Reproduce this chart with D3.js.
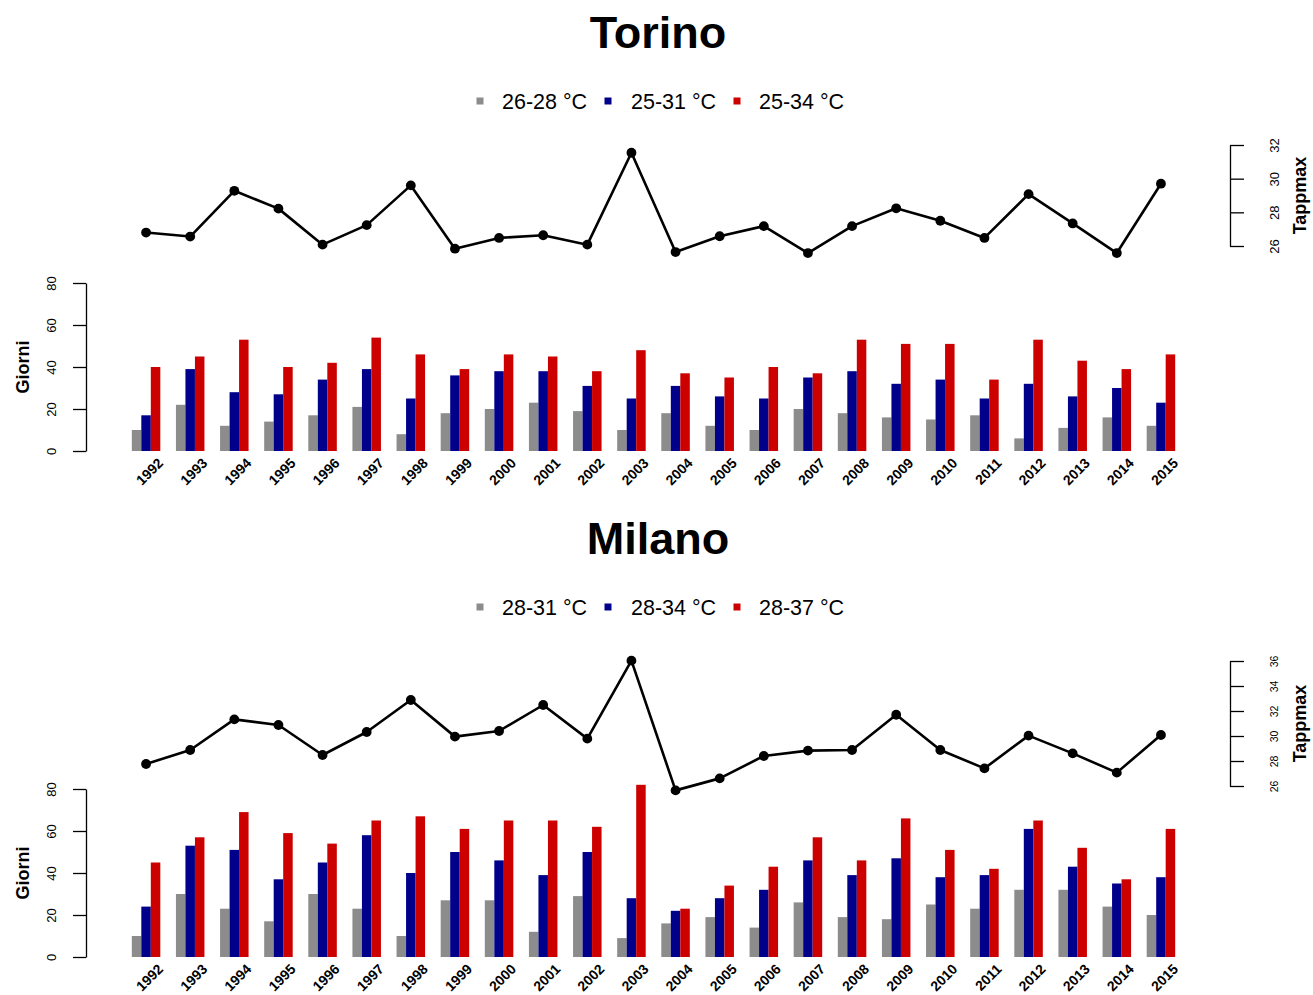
<!DOCTYPE html>
<html>
<head>
<meta charset="utf-8">
<script src="https://cdn.jsdelivr.net/npm/d3@7"></script>
<style>
  html, body { margin: 0; padding: 0; background: #fff; }
  svg { display: block; font-family: "Liberation Sans", Arial, sans-serif; }
  .tick text { font-family: "Liberation Sans", Arial, sans-serif; }
</style>
</head>
<body>
<svg id="chart" width="1313" height="995"></svg>
<script>
// Years shared by both cities
const years = [1992,1993,1994,1995,1996,1997,1998,1999,2000,2001,2002,2003,
               2004,2005,2006,2007,2008,2009,2010,2011,2012,2013,2014,2015];

// Torino: days per temperature class and mean apparent max temperature
const torinoSeries = ["26-28 °C", "25-31 °C", "25-34 °C"];
const torinoLow  = [10,22,12,14,17,21, 8,18,20,23,19,10,18,12,10,20,18,16,15,17, 6,11,16,12];
const torinoMid  = [17,39,28,27,34,39,25,36,38,38,31,25,31,26,25,35,38,32,34,25,32,26,30,23];
const torinoHigh = [40,45,53,40,42,54,46,39,46,45,38,48,37,35,40,37,53,51,51,34,53,43,39,46];
const torinoTapp = [26.8,26.56,29.28,28.22,26.08,27.24,29.6,25.84,26.48,26.64,26.08,31.54,
                    25.64,26.58,27.18,25.58,27.18,28.24,27.5,26.48,29.08,27.34,25.58,29.7];
const torinoTappTicks = [26,28,30,32];

// Milano: days per temperature class and mean apparent max temperature
const milanoSeries = ["28-31 °C", "28-34 °C", "28-37 °C"];
const milanoLow  = [10,30,23,17,30,23,10,27,27,12,29, 9,16,19,14,26,19,18,25,23,32,32,24,20];
const milanoMid  = [24,53,51,37,45,58,40,50,46,39,50,28,22,28,32,46,39,47,38,39,61,43,35,38];
const milanoHigh = [45,57,69,59,54,65,67,61,65,65,62,82,23,34,43,57,46,66,51,42,65,52,37,61];
const milanoTapp = [27.76,28.88,31.33,30.88,28.48,30.32,32.88,29.95,30.4,32.48,29.79,36.03,
                    25.65,26.61,28.4,28.83,28.88,31.7,28.88,27.41,30.03,28.61,27.07,30.08];
const milanoTappTicks = [26,28,30,32,34,36];

const dayTicks = [0,20,40,60,80];
const seriesColors = ["#8c8c8c", "#00008b", "#cd0000"];

const svg = d3.select("#chart");

// Shared horizontal layout: one group of three bars per year
const x = d3.scaleBand().domain(years).range([124, 1183])
  .paddingInner(0.354).paddingOuter(0.177);

function styleAxisText(axisG, shift, size) {
  axisG.attr("font-size", size).attr("font-family", null);
  axisG.select(".domain").attr("stroke-width", 1.3);
  axisG.selectAll(".tick line").attr("stroke-width", 1.3);
  axisG.selectAll(".tick text")
    .attr("x", null).attr("dy", null)
    .attr("transform", `translate(${shift},0) rotate(-90)`)
    .attr("text-anchor", "middle")
    .attr("font-size", size)
    .style("font-size", size + "px")
    .attr("fill", "#000");
}

function drawCity(cfg) {
  const g = svg.append("g").attr("transform", `translate(0,${cfg.dy})`);

  // Title
  g.append("text")
    .attr("x", 658).attr("y", 48)
    .attr("text-anchor", "middle")
    .attr("font-size", 45).attr("font-weight", "bold")
    .text(cfg.name);

  // Legend
  const legendSq = [480, 608, 737];
  const legendTx = [502, 631, 759];
  cfg.series.forEach((s, i) => {
    g.append("rect")
      .attr("x", legendSq[i] - 3.5).attr("y", 97.5)
      .attr("width", 7).attr("height", 7)
      .attr("fill", seriesColors[i]);
    g.append("text")
      .attr("x", legendTx[i]).attr("y", 109)
      .attr("font-size", 21.5)
      .text(s);
  });

  // Line panel: apparent max temperature
  const yT = d3.scaleLinear().domain(cfg.tappDomain).range(cfg.tappRange);
  const cx = d => x(d) + x.bandwidth() / 2;
  const pts = years.map((yr, i) => [cx(yr), yT(cfg.tapp[i])]);
  g.append("path")
    .attr("d", d3.line()(pts))
    .attr("fill", "none").attr("stroke", "#000")
    .attr("stroke-width", 2.6).attr("stroke-linejoin", "round");
  g.selectAll("circle.pt").data(pts).join("circle")
    .attr("class", "pt")
    .attr("cx", d => d[0]).attr("cy", d => d[1]).attr("r", 4.9)
    .attr("fill", "#000");

  const rightAxis = g.append("g")
    .attr("transform", "translate(1230,0)")
    .call(d3.axisRight(yT).tickValues(cfg.tappTicks).tickFormat(d3.format("d"))
      .tickSize(14).tickSizeOuter(0));
  styleAxisText(rightAxis, cfg.tappShift, cfg.tappFont);

  g.append("text")
    .attr("transform", `translate(1306,${(cfg.tappRange[0] + cfg.tappRange[1]) / 2}) rotate(-90)`)
    .attr("text-anchor", "middle")
    .attr("font-size", 18).attr("font-weight", "bold")
    .text("Tappmax");

  // Bar panel: number of days per class
  const yB = d3.scaleLinear().domain([0, 80]).range([451, 283]);
  const xs = d3.scaleBand().domain([0, 1, 2]).range([0, x.bandwidth()]);
  const groups = [cfg.low, cfg.mid, cfg.high];

  years.forEach((yr, i) => {
    groups.forEach((arr, k) => {
      g.append("rect")
        .attr("x", x(yr) + xs(k))
        .attr("y", yB(arr[i]))
        .attr("width", xs.bandwidth())
        .attr("height", yB(0) - yB(arr[i]))
        .attr("fill", seriesColors[k]);
    });
  });

  const leftAxis = g.append("g")
    .attr("transform", "translate(86,0)")
    .call(d3.axisLeft(yB).tickValues(dayTicks).tickSize(13).tickSizeOuter(0));
  styleAxisText(leftAxis, -30.5, 13);

  g.append("text")
    .attr("transform", "translate(28.5,367) rotate(-90)")
    .attr("text-anchor", "middle")
    .attr("font-size", 18).attr("font-weight", "bold")
    .text("Giorni");

  // Year labels under each group
  g.selectAll("text.year").data(years).join("text")
    .attr("class", "year")
    .attr("transform", d => `translate(${cx(d) + 18},464) rotate(-45)`)
    .attr("text-anchor", "end")
    .attr("font-size", 14).attr("font-weight", "bold")
    .text(d => d);
}

drawCity({
  name: "Torino", dy: 0, series: torinoSeries,
  low: torinoLow, mid: torinoMid, high: torinoHigh,
  tapp: torinoTapp, tappTicks: torinoTappTicks,
  tappDomain: [26, 32], tappRange: [246, 145], tappFont: 13, tappShift: 48.5
});

drawCity({
  name: "Milano", dy: 506, series: milanoSeries,
  low: milanoLow, mid: milanoMid, high: milanoHigh,
  tapp: milanoTapp, tappTicks: milanoTappTicks,
  tappDomain: [26, 36], tappRange: [280, 155], tappFont: 10.5, tappShift: 47.5
});
</script>
</body>
</html>
